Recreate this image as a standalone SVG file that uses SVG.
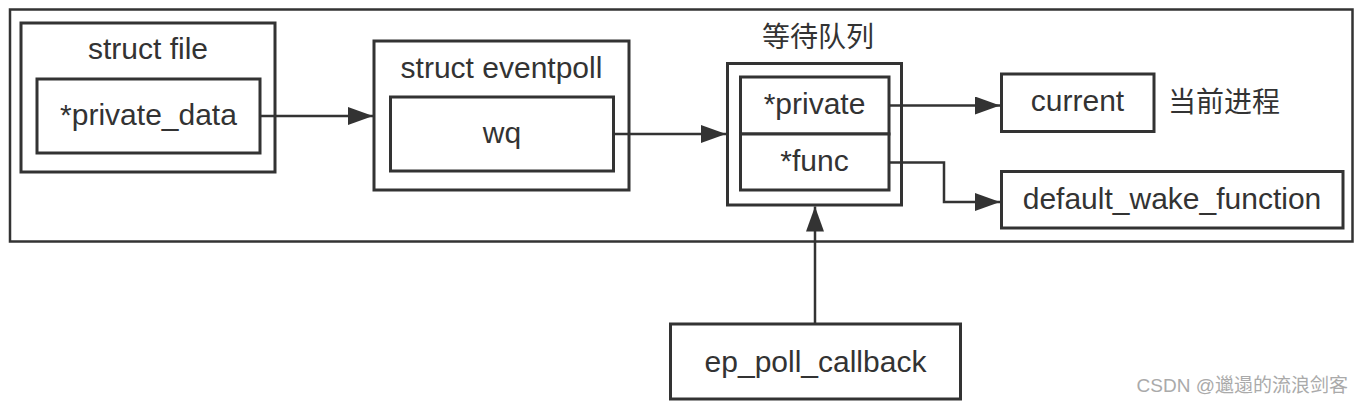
<svg xmlns="http://www.w3.org/2000/svg" width="1362" height="408" viewBox="0 0 1362 408">
<defs>
<style>
.box{fill:#fff;stroke:#333;stroke-width:3}
.frame{fill:none;stroke:#333;stroke-width:2.5}
.t{font-family:"Liberation Sans",Arial,sans-serif;font-size:30px;fill:#333;text-anchor:middle}
.cjk{font-family:"Noto Sans CJK SC","Noto Sans",sans-serif;font-size:28px;fill:#333}
.wm{font-family:"Liberation Sans","Noto Sans CJK SC",sans-serif;font-size:19px;fill:#aaa;text-anchor:end}
.conn{fill:none;stroke:#333;stroke-width:2.5}
</style>
<marker id="arr" markerUnits="userSpaceOnUse" markerWidth="26" markerHeight="18" refX="25" refY="9" orient="auto">
<path d="M0,0 L25,9 L0,18 z" fill="#333"/>
</marker>
</defs>
<rect width="1362" height="408" fill="#fff"/>
<g id="outer"><rect class="frame" x="10" y="9.5" width="1342.5" height="232"/></g>
<g id="struct-file">
<rect class="box" x="21" y="23" width="254" height="149"/>
<text class="t" x="148" y="59">struct file</text>
</g>
<g id="private-data">
<rect class="box" x="37" y="79" width="223" height="74"/>
<text class="t" x="148.5" y="125">*private_data</text>
</g>
<g id="struct-eventpoll">
<rect class="box" x="374" y="41" width="255" height="149"/>
<text class="t" x="501.5" y="78">struct eventpoll</text>
</g>
<g id="wq">
<rect class="box" x="390.5" y="97" width="223" height="74"/>
<text class="t" x="502" y="143">wq</text>
</g>
<g id="wait-queue">
<text class="cjk" x="818" y="47" text-anchor="middle">等待队列</text>
<rect class="box" x="727.5" y="63.5" width="174" height="141.5"/>
</g>
<g id="wq-private">
<rect class="box" x="740.5" y="77" width="148.5" height="57"/>
<text class="t" x="814.5" y="113.5">*private</text>
</g>
<g id="wq-func">
<rect class="box" x="740.5" y="134" width="148.5" height="56"/>
<text class="t" x="814.5" y="170.5">*func</text>
</g>
<g id="current">
<rect class="box" x="1001.5" y="74" width="152.5" height="57.5"/>
<text class="t" x="1077.5" y="111">current</text>
<text class="cjk" x="1168" y="112">当前进程</text>
</g>
<g id="default-wake-function">
<rect class="box" x="1001.5" y="171.5" width="341.5" height="56.5"/>
<text class="t" x="1172" y="209">default_wake_function</text>
</g>
<g id="ep-poll-callback">
<rect class="box" x="670.5" y="324" width="290" height="75"/>
<text class="t" x="815.5" y="371.5">ep_poll_callback</text>
</g>
<g id="connectors">
<path class="conn" d="M260,116 L373,116" marker-end="url(#arr)"/>
<path class="conn" d="M613.5,134 L726,134" marker-end="url(#arr)"/>
<path class="conn" d="M889,105.5 L1000,105.5" marker-end="url(#arr)"/>
<path class="conn" d="M889,162.5 L944,162.5 L944,202 L1000,202" marker-end="url(#arr)"/>
<path class="conn" d="M815,324 L815,206.5" marker-end="url(#arr)"/>
</g>
<text class="wm" x="1348" y="392">CSDN @邋遢的流浪剑客</text>
</svg>
